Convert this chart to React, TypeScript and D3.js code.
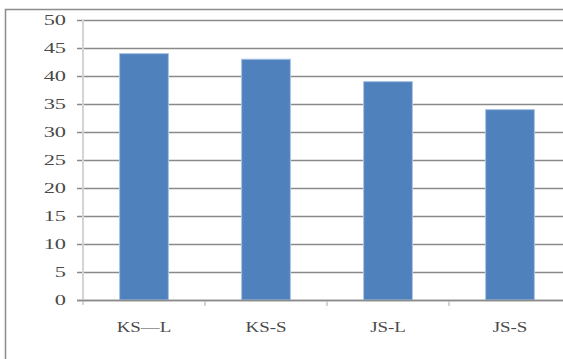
import { useEffect, useRef } from 'react';
import * as d3 from 'd3';

const categories = ['KS—L', 'KS-S', 'JS-L', 'JS-S'];
const values = [44, 43, 39, 34];
const yTicks = [0, 5, 10, 15, 20, 25, 30, 35, 40, 45, 50];

export default function App() {
  const svgRef = useRef<SVGSVGElement>(null);

  useEffect(() => {
    if (!svgRef.current) return;
    const svg = d3.select(svgRef.current);
    svg.selectAll('*').remove();

    const left = 83;
    const right = 571;
    const top = 20;
    const bottom = 300;
    const font = '"Liberation Serif", "DejaVu Serif", serif';

    // outer frame (clipped on the right and bottom like the original)
    svg.append('rect')
      .attr('x', 5.5)
      .attr('y', 9.5)
      .attr('width', 600)
      .attr('height', 400)
      .attr('fill', '#fff')
      .attr('stroke', '#8c8c8c')
      .attr('stroke-width', 1.5);

    const x = d3.scaleBand<string>()
      .domain(categories)
      .range([left, right])
      .paddingInner(0.6)
      .paddingOuter(0.3);

    const y = d3.scaleLinear().domain([0, 50]).range([bottom, top]);

    // gridlines
    svg.append('g')
      .selectAll('line')
      .data(yTicks)
      .join('line')
      .attr('x1', left - 6)
      .attr('x2', 563)
      .attr('y1', d => Math.round(y(d)) + 0.5)
      .attr('y2', d => Math.round(y(d)) + 0.5)
      .attr('stroke', '#8a8a8a')
      .attr('stroke-width', 1.3);

    // y axis line
    svg.append('line')
      .attr('x1', left)
      .attr('x2', left)
      .attr('y1', top)
      .attr('y2', bottom + 5)
      .attr('stroke', '#d4d4d4')
      .attr('stroke-width', 2);

    // y tick labels (wide mincho-like digits)
    svg.append('g')
      .selectAll('text')
      .data(yTicks)
      .join('text')
      .attr('transform', d => `translate(66,${y(d) + 5}) scale(1.6,1)`)
      .attr('text-anchor', 'end')
      .attr('font-family', font)
      .attr('font-size', 14)
      .attr('fill', '#4a4a4a')
      .text(d => d);

    // category tick marks
    const step = x.step();
    svg.append('g')
      .selectAll('line')
      .data(d3.range(1, categories.length))
      .join('line')
      .attr('x1', i => left + i * step)
      .attr('x2', i => left + i * step)
      .attr('y1', bottom)
      .attr('y2', bottom + 6)
      .attr('stroke', '#d4d4d4')
      .attr('stroke-width', 2);

    // bars
    svg.append('g')
      .selectAll('rect')
      .data(values)
      .join('rect')
      .attr('x', (_, i) => x(categories[i])!)
      .attr('y', d => y(d))
      .attr('width', x.bandwidth())
      .attr('height', d => bottom - y(d))
      .attr('fill', '#4f81bd')
      .attr('stroke', '#a9c4e6')
      .attr('stroke-width', 1);

    // baseline
    svg.append('line')
      .attr('x1', left - 6)
      .attr('x2', 563)
      .attr('y1', bottom + 0.5)
      .attr('y2', bottom + 0.5)
      .attr('stroke', '#8a8a8a')
      .attr('stroke-width', 1.3);

    // category labels
    svg.append('g')
      .selectAll('text')
      .data(categories)
      .join('text')
      .attr('transform', d => `translate(${x(d)! + x.bandwidth() / 2},332) scale(1.35,1)`)
      .attr('text-anchor', 'middle')
      .attr('font-family', font)
      .attr('font-size', 14)
      .attr('fill', '#4a4a4a')
      .text(d => d);
  }, []);

  return (
    <svg
      ref={svgRef}
      width={563}
      height={359}
      style={{ position: 'absolute', left: 0, top: 0, background: '#fff' }}
    />
  );
}
